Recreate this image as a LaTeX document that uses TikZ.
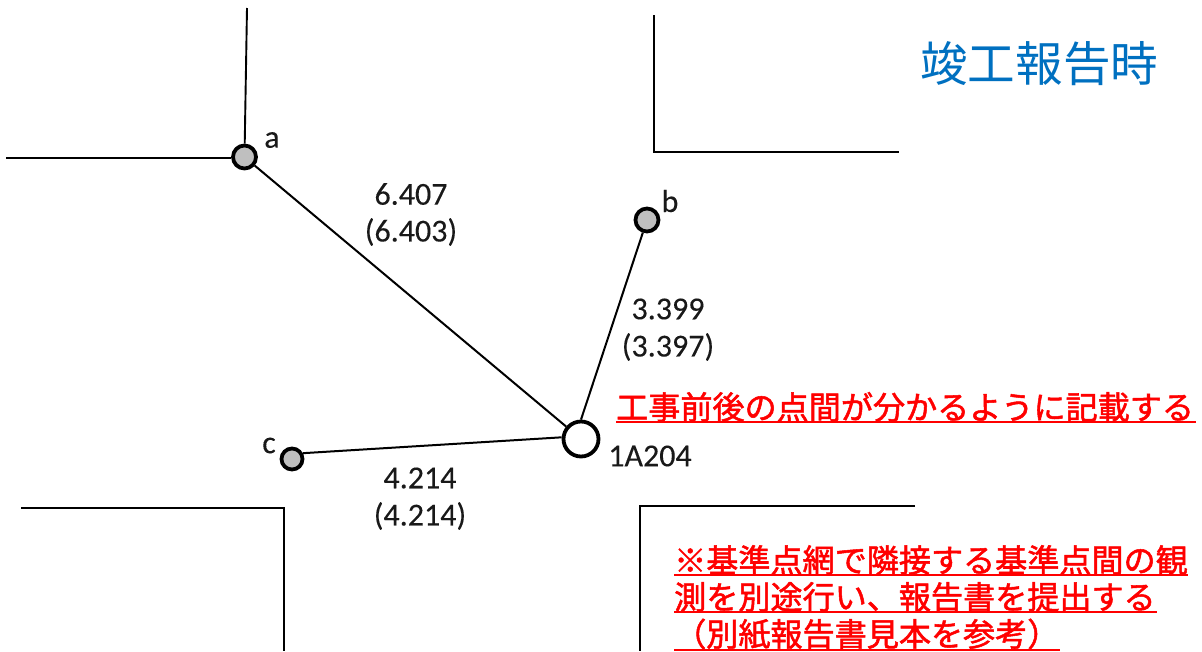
\documentclass[tikz,border=0pt]{standalone}
\usepackage{fontspec}
\setmainfont[FakeBold=0.15]{Carlito}
\newfontfamily\jp{Noto Sans CJK JP}
\newfontfamily\jpb[FakeBold=1.6]{Noto Sans CJK JP}
\tikzset{
  road/.style={draw=black,line width=1.9pt,line cap=butt},
  link/.style={draw=black,line width=2pt},
  mini/.style={circle,draw=black,line width=3.8pt,fill=black!25,inner sep=0pt,minimum size=#1},
  main/.style={circle,draw=black,line width=3.8pt,fill=white,inner sep=0pt,minimum size=35pt},
  lab/.style={font=\fontsize{32}{36}\selectfont,text=black!90,inner sep=0pt,anchor=center},
  red/.style={font=\jpb\fontsize{32.1}{37}\selectfont,text=red,inner sep=0pt,anchor=west},
  under/.style={draw=red,line width=2pt},
}
\begin{document}
\begin{tikzpicture}[x=1pt,y=-1pt]
\useasboundingbox (0,0) rectangle (1202,651);
\node[mini=23pt] (a) at (244.5,157) {};
\node[mini=23pt] (b) at (647,220) {};
\node[mini=21pt] (c) at (292,459) {};
\node[main] (o) at (581,439) {};
\coordinate (aN) at (247,8);
\coordinate (aW) at (6,158);
\draw[road] (aN) -- (a);
\draw[road] (aW) -- (a.west |- aW);
\draw[link] (a) -- (o);
\draw[link] (b) -- (o.90);
\draw[link] (c.28) -- (o.175);
\draw[road] (654,15) -- (654,152) -- (899,152);
\draw[road] (21,508) -- (284,508) -- (284,651);
\draw[road] (915,506) -- (640,506) -- (640,651);
\node[lab] (ta) at (272,140) {a};
\node[lab] (tb) at (670,201) {b};
\node[lab] (tc) at (269,445.5) {c};
\node[lab] (to) at (650,456) {1A204};
\node[lab] (d1) at (411,194) {6.407};
\node[lab] (d1o) at (411,232) {(6.403)};
\node[lab] (d2) at (668,309) {3.399};
\node[lab] (d2o) at (668,347) {(3.397)};
\node[lab] (d3) at (420,478) {4.214};
\node[lab] (d3o) at (420,516) {(4.214)};
\node[font=\jp\fontsize{47.6}{50}\selectfont,text={rgb,255:red,0;green,112;blue,192},inner sep=0pt,anchor=west] (title) at (920,64) {竣工報告時};
\node[red] (r1) at (616,407) {工事前後の点間が分かるように記載する};
\node[red] (r2) at (674,560) {※基準点網で隣接する基準点間の観};
\node[red] (r3) at (674,597) {測を別途行い、報告書を提出する};
\node[red] (r4) at (674,634) {（別紙報告書見本を参考）};
\draw[under] (616,422) -- (1196,422);
\draw[under] (674,575) -- (1188,575);
\draw[under] (674,612) -- (1157,612);
\draw[under] (674,649.5) -- (1060,649.5);
\end{tikzpicture}
\end{document}
